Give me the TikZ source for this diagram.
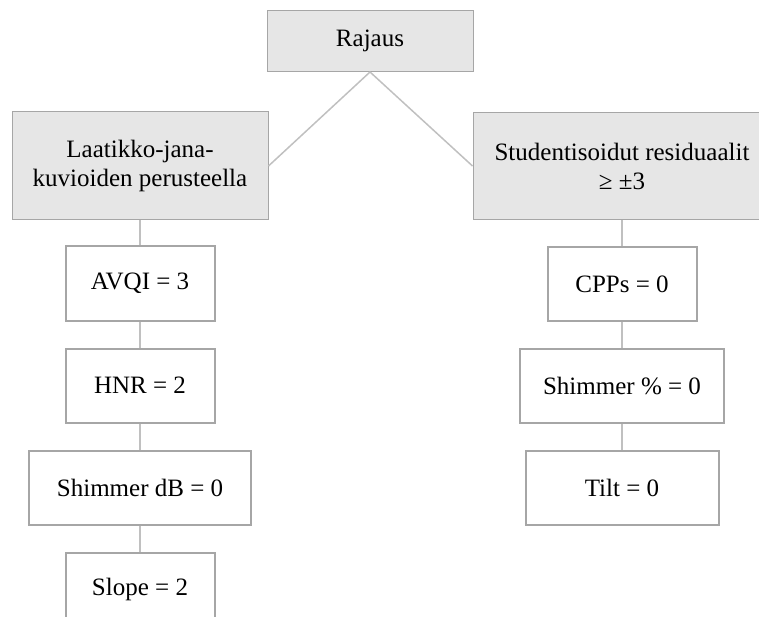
\documentclass[tikz,border=0pt]{standalone}
\usepackage{fontspec}
\setmainfont{Liberation Serif}
\usetikzlibrary{positioning}
\definecolor{boxfill}{HTML}{E6E6E6}
\definecolor{boxline}{HTML}{A6A6A6}
\definecolor{linkline}{HTML}{C0C0C0}
\tikzset{
  headbox/.style={draw=boxline, fill=boxfill, line width=1pt, align=center, inner sep=0pt},
  valbox/.style={draw=boxline, fill=white, line width=2pt, minimum width=149pt, minimum height=74pt, inner sep=0pt},
  link/.style={draw=linkline, line width=1.5pt}
}
\begin{document}
\begin{tikzpicture}[x=1pt,y=-1pt,node distance=26pt,font=\fontsize{25}{29}\selectfont]
\useasboundingbox (0,0) rectangle (759,617);
\clip (0,0) rectangle (759,617);
% top row
\node[headbox, minimum width=206pt, minimum height=61pt] (rajaus) at (370,41) {Rajaus};
\node[headbox, minimum width=256pt, minimum height=108pt] (laatikko) at (140,166) {Laatikko-jana-\\kuvioiden perusteella};
\node[headbox, minimum width=298pt, minimum height=107pt] (resid) at (622,166) {Studentisoidut residuaalit\\≥ ±3};
% left column
\node[valbox, below=25pt of laatikko] (avqi) {AVQI = 3};
\node[valbox, below=of avqi] (hnr) {HNR = 2};
\node[valbox, minimum width=222pt, below=of hnr] (shimdb) {Shimmer dB = 0};
\node[valbox, below=of shimdb] (slope) {Slope = 2};
% right column
\node[valbox, below=of resid] (cpps) {CPPs = 0};
\node[valbox, minimum width=204pt, below=of cpps] (shimpc) {Shimmer \% = 0};
\node[valbox, minimum width=193pt, below=of shimpc] (tilt) {Tilt = 0};
% connectors
\draw[link] (rajaus.south) -- (laatikko.east);
\draw[link] (rajaus.south) -- (resid.west);
\draw[link] (laatikko) -- (avqi) -- (hnr) -- (shimdb) -- (slope);
\draw[link] (resid) -- (cpps) -- (shimpc) -- (tilt);
\end{tikzpicture}
\end{document}
